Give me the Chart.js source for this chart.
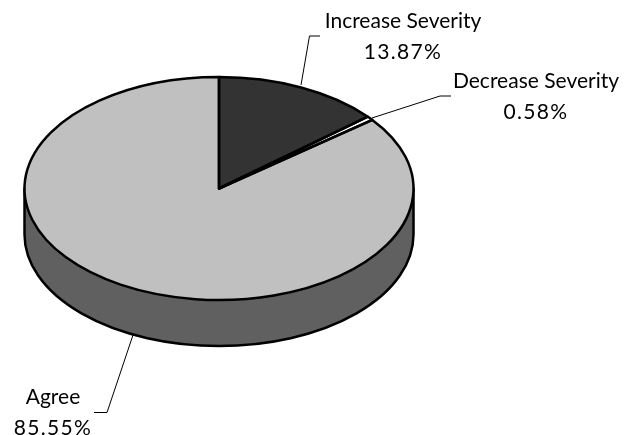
<!DOCTYPE html>
<html>
<head>
<meta charset="utf-8">
<style>
  html, body { margin: 0; padding: 0; background: #fff; }
  canvas { display: block; }
</style>
<script src="https://cdn.jsdelivr.net/npm/chart.js@4/dist/chart.umd.js"></script>
</head>
<body>
<canvas id="severity-pie" width="631" height="435"></canvas>
<script>
const categories = ['Increase Severity', 'Decrease Severity', 'Agree'];
const shares = [13.87, 0.58, 85.55];
const sliceColors = ['#333333', '#ffffff', '#c0c0c0'];

// where each caption sits and how its leader line runs
const captionSpots = [
    { x: 403, y: 21, line: [[301, 85], [309.5, 36], [320, 36]] },
    { x: 536, y: 81, line: [[372, 118], [440, 96], [451, 96]] },
    { x: 53, y: 397, line: [[133, 335], [107, 412.5], [94, 412.5]] }
];

const TILT_CENTER_Y = 188.5;
const TILT = 111.5 / 194.5;
const DEPTH = 46;
const WALL_COLOR = '#606060';
const PEN = 2.5;

function tilt(ctx, arc) {
    ctx.translate(0, TILT_CENTER_Y - arc.y * TILT);
    ctx.scale(1, TILT);
}

// squashes the round pie into a disc and gives it a side wall
const discPlugin = {
    id: 'disc',
    beforeDatasetDraw(chart, args) {
        const ctx = chart.ctx;
        const first = args.meta.data[0];
        const rx = first.outerRadius;
        const ry = rx * TILT;
        ctx.save();
        ctx.beginPath();
        ctx.ellipse(first.x, TILT_CENTER_Y + DEPTH, rx, ry, 0, 0, Math.PI);
        ctx.lineTo(first.x - rx, TILT_CENTER_Y);
        ctx.lineTo(first.x + rx, TILT_CENTER_Y);
        ctx.closePath();
        ctx.fillStyle = WALL_COLOR;
        ctx.fill();
        ctx.lineWidth = PEN;
        ctx.strokeStyle = '#000';
        ctx.lineJoin = 'round';
        ctx.stroke();
        ctx.restore();

        ctx.save();
        tilt(ctx, first);
    },
    afterDatasetDraw(chart, args) {
        const ctx = chart.ctx;
        ctx.restore();

        // outlines go on after the squash so the pen stays even all round
        ctx.save();
        ctx.lineWidth = PEN;
        ctx.strokeStyle = '#000';
        ctx.lineJoin = 'round';
        args.meta.data.forEach(arc => {
            const rx = arc.outerRadius;
            ctx.beginPath();
            ctx.moveTo(arc.x, TILT_CENTER_Y);
            ctx.ellipse(arc.x, TILT_CENTER_Y, rx, rx * TILT, 0, arc.startAngle, arc.endAngle);
            ctx.closePath();
            ctx.stroke();
        });
        ctx.restore();
    },
    afterDraw(chart) {
        const ctx = chart.ctx;
        ctx.save();
        captionSpots.forEach((spot, i) => {
            ctx.beginPath();
            spot.line.forEach(([x, y], n) => n ? ctx.lineTo(x, y) : ctx.moveTo(x, y));
            ctx.lineWidth = 1;
            ctx.strokeStyle = '#000';
            ctx.stroke();

            ctx.fillStyle = '#000';
            ctx.font = '21px Lato';
            ctx.textAlign = 'center';
            ctx.textBaseline = 'middle';
            ctx.letterSpacing = '0px';
            ctx.fillText(categories[i], spot.x, spot.y);
            // the percentages run wider than the names
            ctx.letterSpacing = '1.3px';
            ctx.fillText(shares[i].toFixed(2) + '%', spot.x, spot.y + 31);
        });
        ctx.restore();
    }
};

new Chart(document.getElementById('severity-pie'), {
    type: 'pie',
    data: {
        labels: categories,
        datasets: [{
            data: shares,
            backgroundColor: sliceColors,
            borderWidth: 0,
            clip: false
        }]
    },
    options: {
        responsive: false,
        animation: false,
        layout: { padding: { left: 24.5, right: 217.5, top: 23, bottom: 23 } },
        plugins: {
            legend: { display: false },
            tooltip: { enabled: false }
        }
    },
    plugins: [discPlugin]
});
</script>
</body>
</html>
